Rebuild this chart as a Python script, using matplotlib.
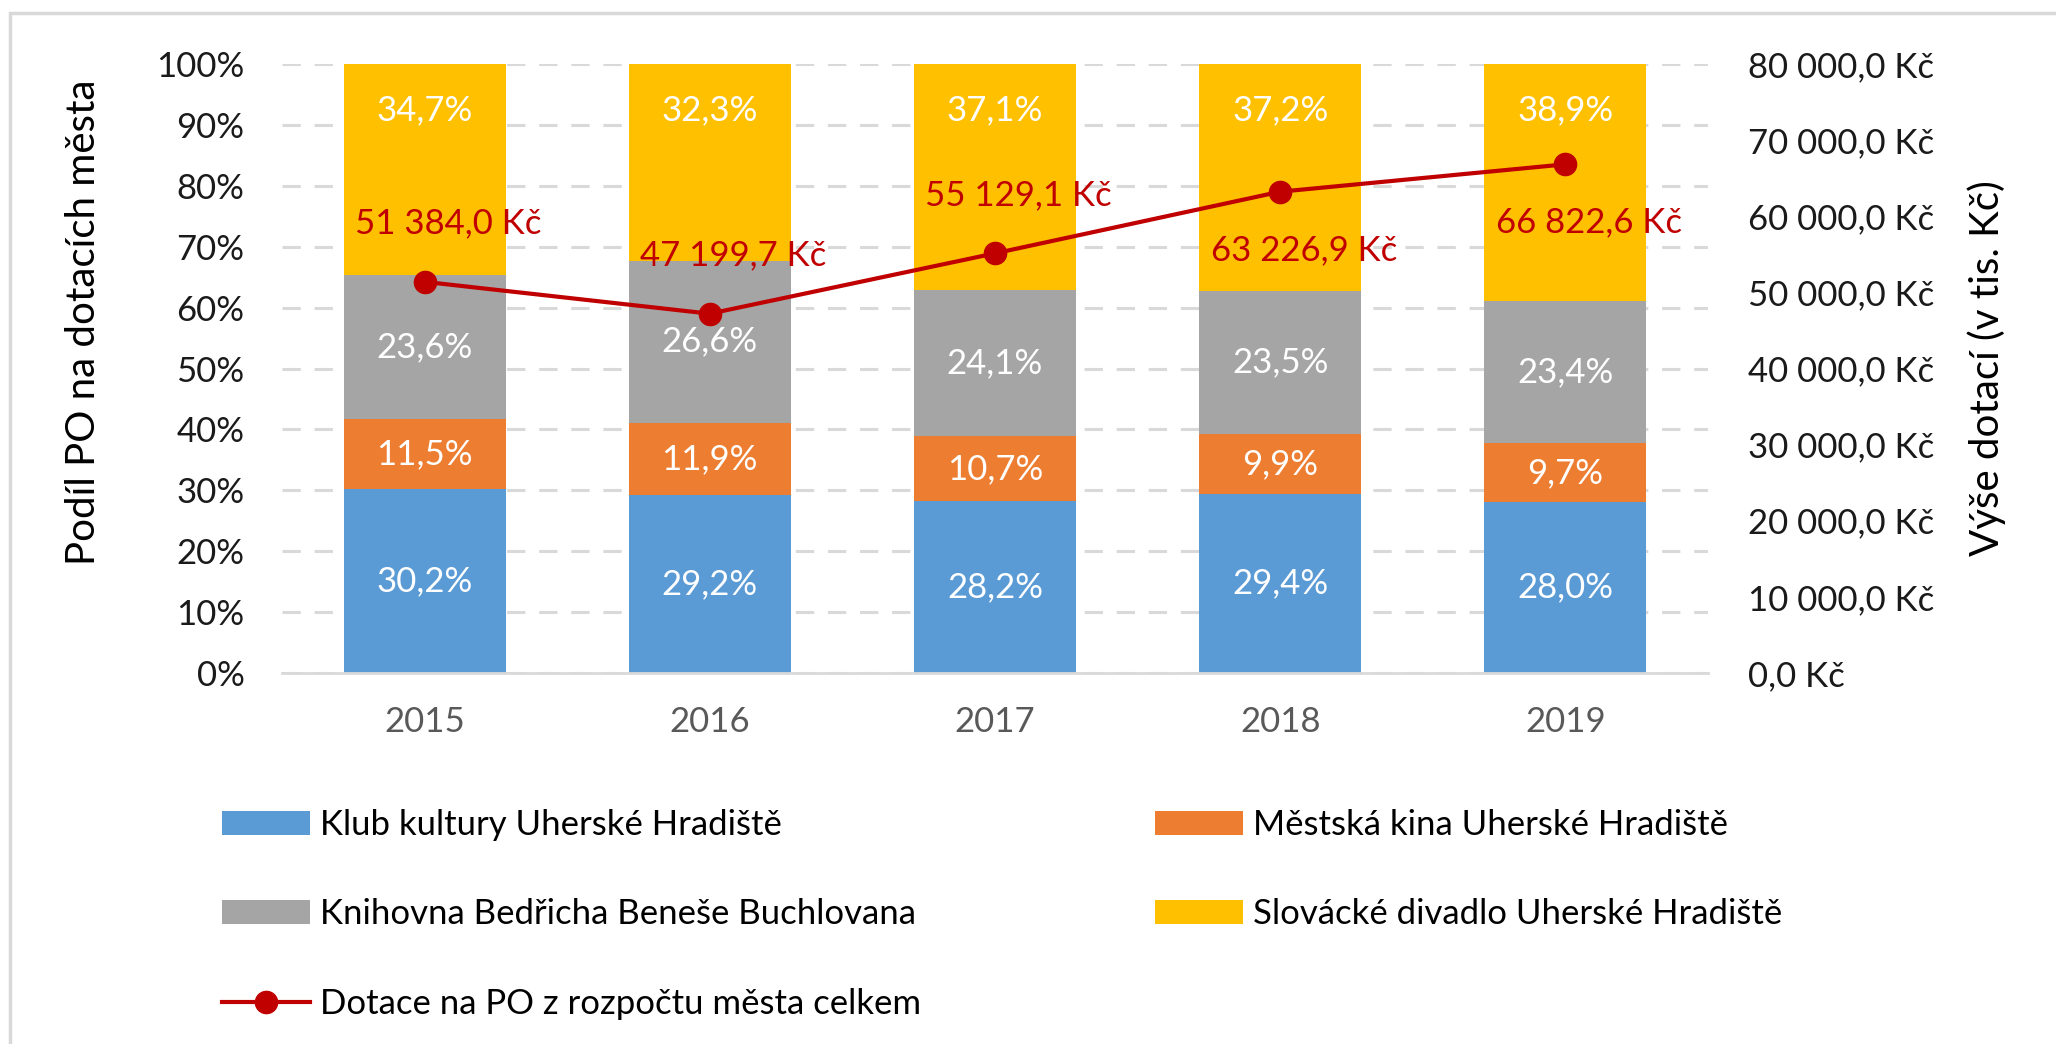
import matplotlib
matplotlib.use('Agg')
import matplotlib.pyplot as plt
import numpy as np
from matplotlib.ticker import FuncFormatter, FixedLocator
from matplotlib.patches import Rectangle

# ---- data ----
years = ['2015', '2016', '2017', '2018', '2019']
klub = [30.2, 29.2, 28.2, 29.4, 28.0]
kina = [11.5, 11.9, 10.7, 9.9, 9.7]
knihovna = [23.6, 26.6, 24.1, 23.5, 23.4]
divadlo = [34.7, 32.3, 37.1, 37.2, 38.9]
dotace = [51384.0, 47199.7, 55129.1, 63226.9, 66822.6]
series_names = ['Klub kultury Uherské Hradiště', 'Městská kina Uherské Hradiště',
                'Knihovna Bedřicha Beneše Buchlovana', 'Slovácké divadlo Uherské Hradiště']
line_name = 'Dotace na PO z rozpočtu města celkem'
left_ticks = [0, 10, 20, 30, 40, 50, 60, 70, 80, 90, 100]
right_ticks = [0, 10000, 20000, 30000, 40000, 50000, 60000, 70000, 80000]
ylabel_left = 'Podíl PO na dotacích města'
ylabel_right = 'Výše dotací (v tis. Kč)'

# ---- style ----
colors = ['#5B9BD5', '#ED7D31', '#A5A5A5', '#FFC000']
line_color = '#C00000'
label_above = [True, True, True, False, False]
FS = 25
TFS = 29

plt.rcParams['font.family'] = ['Lato', 'DejaVu Sans']


def kc(v):
    s = f"{v:,.1f}".replace(',', ' ').replace('.', ',')
    return s + ' Kč'


W, H = 2056, 1044
fig = plt.figure(figsize=(W / 100, H / 100), dpi=100)
L, R, T, B = 282, 1708, 64, 673
ax = fig.add_axes([L / W, 1 - B / H, (R - L) / W, (B - T) / H])

x = np.arange(len(years))
data = np.array([klub, kina, knihovna, divadlo])
shares = data / data.sum(axis=0) * 100
bottom = np.zeros(len(years))
bars = []
for i in range(4):
    b = ax.bar(x, shares[i], 0.568, bottom=bottom, color=colors[i], label=series_names[i], zorder=2)
    bars.append(b)
    for j in range(len(years)):
        lab = f"{data[i][j]:.1f}".replace('.', ',') + '%'
        if i < 3:
            ax.text(x[j], bottom[j] + shares[i][j] / 2, lab, ha='center', va='center',
                    color='white', fontsize=FS, zorder=3)
        else:
            ax.annotate(lab, (x[j], bottom[j] + shares[i][j]), xytext=(0, -33),
                        textcoords='offset points', ha='center', va='center',
                        color='white', fontsize=FS, zorder=3)
    bottom = bottom + shares[i]

ax.set_xlim(-0.5, 4.5)
ax.set_ylim(0, 100)
ax.yaxis.set_major_locator(FixedLocator(left_ticks))
ax.yaxis.set_major_formatter(FuncFormatter(lambda v, p: f"{int(round(v))}%"))
ax.set_xticks(x)
ax.set_xticklabels(years)
ax.tick_params(axis='x', length=0, pad=24, labelsize=FS, labelcolor='#595959')
ax.tick_params(axis='y', length=0, pad=27, labelsize=FS, labelcolor='#1a1a1a')
ax.set_axisbelow(True)
ax.yaxis.grid(True, color='#D9D9D9', lw=2.2, linestyle=(0, (6, 4.5)))
for s in ['left', 'right', 'top']:
    ax.spines[s].set_visible(False)
ax.spines['bottom'].set_color('#D9D9D9')
ax.spines['bottom'].set_linewidth(2)

ax2 = ax.twinx()
line, = ax2.plot(x, dotace, color=line_color, lw=3, marker='o', ms=16, label=line_name, zorder=4)
ax2.set_ylim(0, 80000)
ax2.yaxis.set_major_locator(FixedLocator(right_ticks))
ax2.yaxis.set_major_formatter(FuncFormatter(lambda v, p: kc(v)))
ax2.tick_params(axis='y', length=0, pad=29, labelsize=FS, labelcolor='#1a1a1a')
for s in ax2.spines.values():
    s.set_visible(False)
for j in range(len(years)):
    dy = 42 if label_above[j] else -42
    ax2.annotate(kc(dotace[j]), (x[j], dotace[j]), xytext=(17, dy), textcoords='offset points',
                 ha='center', va='center', color=line_color, fontsize=FS, zorder=5)

fig.text(84 / W, 1 - 322 / H, ylabel_left, rotation=90, ha='center', va='center', fontsize=TFS, color='#000000')
fig.text(1987 / W, 1 - 368 / H, ylabel_right, rotation=90, ha='center', va='center', fontsize=TFS, color='#000000')

fs_px = FS * 100 / 72
common = dict(loc='upper left', frameon=False, borderpad=0, borderaxespad=0, fontsize=FS,
              handlelength=88 / fs_px, handleheight=23 / fs_px, handletextpad=10 / fs_px,
              labelspacing=1.65)
fig.legend([bars[0], bars[2], line], [series_names[0], series_names[2], line_name],
           bbox_to_anchor=(222 / W, 1 - 809 / H), **common)
fig.legend([bars[1], bars[3]], [series_names[1], series_names[3]],
           bbox_to_anchor=(1155 / W, 1 - 809 / H), **common)

fig.add_artist(Rectangle((10 / W, -0.1), 1.2, 1 - 13 / H + 0.1, transform=fig.transFigure,
                         fill=False, ec='#D9D9D9', lw=2.5))

fig.savefig('out.png', dpi=100)
